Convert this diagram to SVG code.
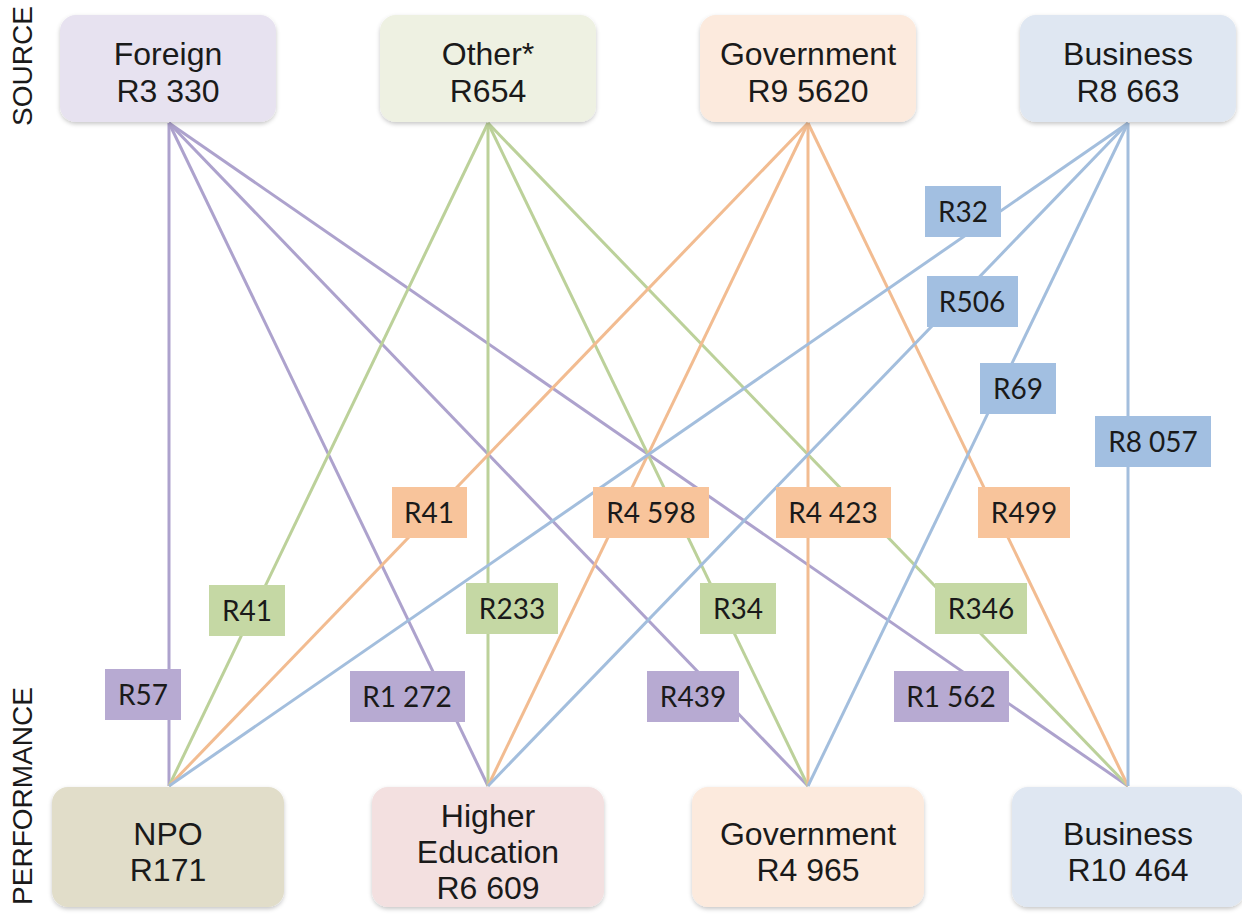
<svg xmlns="http://www.w3.org/2000/svg" width="1242" height="922" viewBox="0 0 1242 922">
<style>
.node{stroke:none;}
.nt{font-family:"Liberation Sans",Arial,sans-serif;font-size:32px;fill:#1a1a1a;text-anchor:middle;}
.side{font-family:"Liberation Sans",Arial,sans-serif;font-size:28px;fill:#1a1a1a;text-anchor:middle;}
.lt{font-family:Lato,"Open Sans",sans-serif;font-size:28px;fill:#1a1a1a;text-anchor:middle;}
.c{fill:none;stroke-width:3;}
.cp{stroke:#ADA2CD;}
.cg{stroke:#BCD19A;}
.co{stroke:#F2BC91;}
.cb{stroke:#A3BEDD;}
.lp{fill:#B7AAD2;}
.lg{fill:#C5D8A4;}
.lo{fill:#F8C49B;}
.lb{fill:#A2BFE1;}
</style>
<defs>
<filter id="sh" x="-10%" y="-10%" width="120%" height="130%">
<feDropShadow dx="0" dy="2" stdDeviation="2" flood-color="#000" flood-opacity="0.22"/>
</filter>
</defs>
<rect width="1242" height="922" fill="#ffffff"/>
<text class="side" transform="translate(32,66) rotate(-90)">SOURCE</text>
<text class="side" transform="translate(32,796) rotate(-90)">PERFORMANCE</text>
<g id="connectors">
<line class="c cp" x1="169" y1="123" x2="169" y2="786"/>
<line class="c cp" x1="169" y1="123" x2="488" y2="786"/>
<line class="c cp" x1="169" y1="123" x2="808" y2="786"/>
<line class="c cp" x1="169" y1="123" x2="1128" y2="786"/>
<line class="c cg" x1="488" y1="123" x2="169" y2="786"/>
<line class="c cg" x1="488" y1="123" x2="488" y2="786"/>
<line class="c cg" x1="488" y1="123" x2="808" y2="786"/>
<line class="c cg" x1="488" y1="123" x2="1128" y2="786"/>
<line class="c co" x1="808" y1="123" x2="169" y2="786"/>
<line class="c co" x1="808" y1="123" x2="488" y2="786"/>
<line class="c co" x1="808" y1="123" x2="808" y2="786"/>
<line class="c co" x1="808" y1="123" x2="1128" y2="786"/>
<line class="c cb" x1="1128" y1="123" x2="169" y2="786"/>
<line class="c cb" x1="1128" y1="123" x2="488" y2="786"/>
<line class="c cb" x1="1128" y1="123" x2="808" y2="786"/>
<line class="c cb" x1="1128" y1="123" x2="1128" y2="786"/>
</g>
<g id="labels">
<g id="l-foreign-npo"><rect class="lp" x="105" y="669" width="76" height="51"/><text class="lt" x="143" y="705">R57</text></g>
<g id="l-foreign-he"><rect class="lp" x="350" y="671" width="115" height="51"/><text class="lt" x="407" y="707">R1 272</text></g>
<g id="l-foreign-gov"><rect class="lp" x="647" y="671" width="92" height="51"/><text class="lt" x="693" y="707">R439</text></g>
<g id="l-foreign-bus"><rect class="lp" x="894" y="671" width="115" height="51"/><text class="lt" x="951" y="707">R1 562</text></g>
<g id="l-other-npo"><rect class="lg" x="209" y="585" width="76" height="51"/><text class="lt" x="247" y="621">R41</text></g>
<g id="l-other-he"><rect class="lg" x="466" y="583" width="92" height="51"/><text class="lt" x="512" y="619">R233</text></g>
<g id="l-other-gov"><rect class="lg" x="700" y="583" width="76" height="51"/><text class="lt" x="738" y="619">R34</text></g>
<g id="l-other-bus"><rect class="lg" x="935" y="583" width="92" height="51"/><text class="lt" x="981" y="619">R346</text></g>
<g id="l-gov-npo"><rect class="lo" x="392" y="487" width="75" height="51"/><text class="lt" x="429" y="523">R41</text></g>
<g id="l-gov-he"><rect class="lo" x="593" y="487" width="116" height="51"/><text class="lt" x="651" y="523">R4 598</text></g>
<g id="l-gov-gov"><rect class="lo" x="776" y="487" width="115" height="51"/><text class="lt" x="833" y="523">R4 423</text></g>
<g id="l-gov-bus"><rect class="lo" x="978" y="487" width="92" height="51"/><text class="lt" x="1024" y="523">R499</text></g>
<g id="l-bus-npo"><rect class="lb" x="925" y="186" width="76" height="51"/><text class="lt" x="963" y="222">R32</text></g>
<g id="l-bus-he"><rect class="lb" x="927" y="276" width="91" height="51"/><text class="lt" x="972" y="312">R506</text></g>
<g id="l-bus-gov"><rect class="lb" x="980" y="363" width="76" height="51"/><text class="lt" x="1018" y="399">R69</text></g>
<g id="l-bus-bus"><rect class="lb" x="1095" y="416" width="116" height="51"/><text class="lt" x="1153" y="452">R8 057</text></g>
</g>
<g id="src-foreign"><rect class="node" x="60" y="15" width="216" height="107" rx="16" fill="#E7E2F0" filter="url(#sh)"/><text class="nt" x="168" y="65">Foreign</text><text class="nt" x="168" y="102">R3 330</text></g>
<g id="src-other"><rect class="node" x="380" y="15" width="216" height="107" rx="16" fill="#EEF1E2" filter="url(#sh)"/><text class="nt" x="488" y="65">Other*</text><text class="nt" x="488" y="102">R654</text></g>
<g id="src-government"><rect class="node" x="700" y="15" width="216" height="107" rx="16" fill="#FCEADD" filter="url(#sh)"/><text class="nt" x="808" y="65">Government</text><text class="nt" x="808" y="102">R9 5620</text></g>
<g id="src-business"><rect class="node" x="1020" y="15" width="216" height="107" rx="16" fill="#DFE7F2" filter="url(#sh)"/><text class="nt" x="1128" y="65">Business</text><text class="nt" x="1128" y="102">R8 663</text></g>
<g id="perf-npo"><rect class="node" x="52" y="787" width="232" height="120" rx="16" fill="#E1DDC9" filter="url(#sh)"/><text class="nt" x="168" y="845">NPO</text><text class="nt" x="168" y="881">R171</text></g>
<g id="perf-he"><rect class="node" x="372" y="787" width="232" height="120" rx="16" fill="#F3E0E0" filter="url(#sh)"/><text class="nt" x="488" y="827">Higher</text><text class="nt" x="488" y="863">Education</text><text class="nt" x="488" y="899">R6 609</text></g>
<g id="perf-government"><rect class="node" x="692" y="787" width="232" height="120" rx="16" fill="#FCEADD" filter="url(#sh)"/><text class="nt" x="808" y="845">Government</text><text class="nt" x="808" y="881">R4 965</text></g>
<g id="perf-business"><rect class="node" x="1012" y="787" width="232" height="120" rx="16" fill="#DFE7F2" filter="url(#sh)"/><text class="nt" x="1128" y="845">Business</text><text class="nt" x="1128" y="881">R10 464</text></g>
</svg>
